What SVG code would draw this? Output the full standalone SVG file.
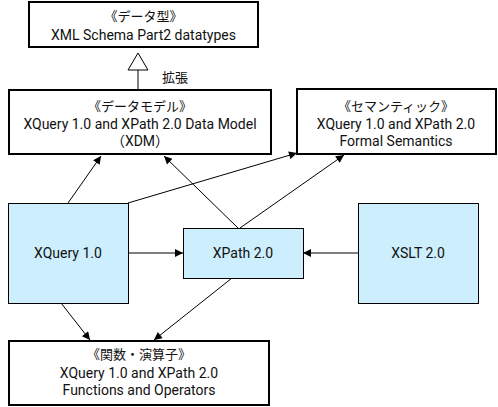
<svg xmlns="http://www.w3.org/2000/svg" width="498" height="407" viewBox="0 0 498 407">
<style>
.w{fill:#fff;stroke:#000;stroke-width:2}
.b{fill:#cdeefc;stroke:#000;stroke-width:1}
text{font-family:Roboto,"Noto Sans CJK JP",sans-serif;font-size:14px;fill:#111;text-anchor:middle;dominant-baseline:central}
.j{font-size:13px}
.c line{stroke:#000;stroke-width:1;fill:none}
</style>
<defs>
<marker id="a" viewBox="0 0 10 10" refX="10" refY="5" markerWidth="10" markerHeight="8" markerUnits="userSpaceOnUse" orient="auto"><path d="M0,0L10,5L0,10Z" fill="#000"/></marker>
</defs>
<rect width="498" height="407" fill="#fff"/>
<g class="c">
<line x1="138" y1="89" x2="138" y2="70"/>
<path d="M128,70L148,70L138,53Z" fill="#fff" stroke="#000" stroke-width="1"/>
<line x1="68" y1="203" x2="101" y2="156" marker-end="url(#a)"/>
<line x1="238" y1="228" x2="164" y2="156" marker-end="url(#a)"/>
<line x1="128" y1="203" x2="297" y2="153" marker-end="url(#a)"/>
<line x1="240" y1="228" x2="344" y2="155" marker-end="url(#a)"/>
<line x1="128" y1="253" x2="183" y2="253" marker-end="url(#a)"/>
<line x1="358" y1="253" x2="303" y2="253" marker-end="url(#a)"/>
<line x1="61" y1="303" x2="90" y2="340" marker-end="url(#a)"/>
<line x1="232" y1="278" x2="154" y2="340" marker-end="url(#a)"/>
</g>
<text class="j" x="175" y="77">拡張</text>
<g id="datatypes">
<rect class="w" x="29" y="2" width="229" height="45"/>
<text class="j" x="143.5" y="16">《データ型》</text>
<text x="143.5" y="35">XML Schema Part2 datatypes</text>
</g>
<g id="datamodel">
<rect class="w" x="9" y="90" width="262" height="64"/>
<text class="j" x="140" y="106">《データモデル》</text>
<text x="140" y="124">XQuery 1.0 and XPath 2.0 Data Model</text>
<text x="140" y="141">（XDM）</text>
</g>
<g id="semantics">
<rect class="w" x="297" y="89" width="199" height="65"/>
<text class="j" x="396" y="106">《セマンティック》</text>
<text x="396" y="124">XQuery 1.0 and XPath 2.0</text>
<text x="396" y="141">Formal Semantics</text>
</g>
<g id="xquery">
<rect class="b" x="8.5" y="203.5" width="120" height="100"/>
<text x="68" y="253">XQuery 1.0</text>
</g>
<g id="xpath">
<rect class="b" x="183.5" y="228.5" width="120" height="50"/>
<text x="243" y="253">XPath 2.0</text>
</g>
<g id="xslt">
<rect class="b" x="358.5" y="203.5" width="120" height="100"/>
<text x="418" y="253">XSLT 2.0</text>
</g>
<g id="functions">
<rect class="w" x="9" y="341" width="260" height="64"/>
<text class="j" x="139" y="354">《関数・演算子》</text>
<text x="139" y="373">XQuery 1.0 and XPath 2.0</text>
<text x="139" y="390">Functions and Operators</text>
</g>
</svg>
